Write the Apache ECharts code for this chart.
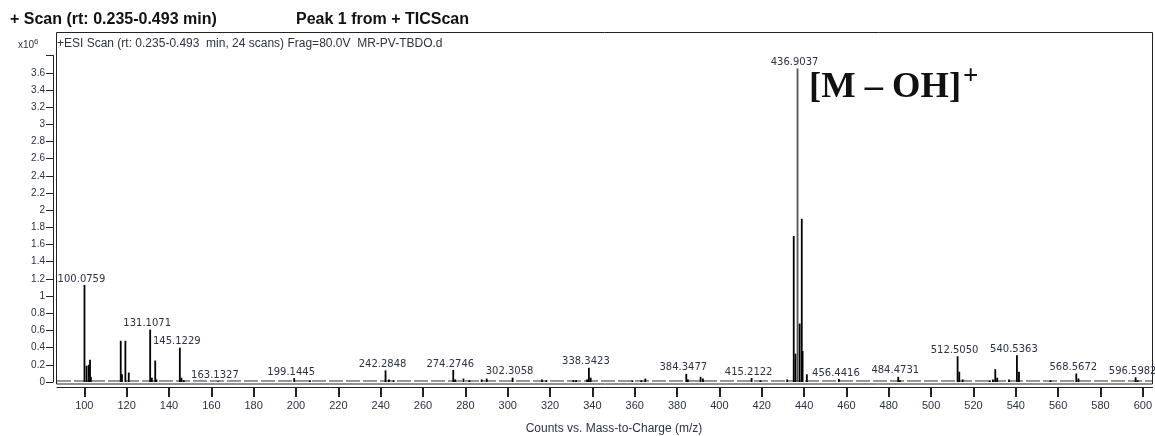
<!DOCTYPE html>
<html><head><meta charset="utf-8">
<script src="https://cdn.jsdelivr.net/npm/echarts@6/dist/echarts.min.js"></script>
<style>html,body{margin:0;padding:0;background:#fff}#c{width:1155px;height:436px}</style>
</head><body><div id="c"></div>
<script>
// annotated peaks (m/z, intensity x10^6)
const labeledMz = [100.0759,131.1071,145.1229,163.1327,199.1445,242.2848,274.2746,302.3058,338.3423,384.3477,415.2122,436.9037,456.4416,484.4731,512.5050,540.5363,568.5672,596.5982];
const labeledIntensity = [1.13,0.61,0.40,0.01,0.045,0.135,0.14,0.05,0.165,0.095,0.045,3.65,0.035,0.06,0.30,0.31,0.10,0.055];
// other (unlabelled) peaks
const otherMz = [101.08,102.1,102.7,103.1,117.2,117.8,119.4,121.0,131.9,133.5,134.1,145.9,147.0,206.6,243.9,246.1,275.2,279.1,281.9,287.7,290.1,316.2,318.3,331.0,332.3,337.5,339.2,358.9,363.1,365.0,385.1,391.1,392.2,419.4,432.0,435.1,435.9,437.9,438.9,439.3,441.3,485.3,513.3,514.9,527.7,529.2,530.3,531.2,536.8,541.5,556.4,569.6,597.5];
const otherIntensity = [0.19,0.20,0.26,0.06,0.48,0.09,0.48,0.11,0.05,0.25,0.03,0.05,0.02,0.02,0.03,0.02,0.03,0.04,0.02,0.03,0.04,0.03,0.02,0.02,0.02,0.03,0.05,0.02,0.02,0.04,0.03,0.06,0.04,0.02,0.03,1.70,0.33,0.68,1.90,0.36,0.09,0.02,0.12,0.03,0.02,0.03,0.15,0.05,0.03,0.12,0.02,0.04,0.02];
// baseline noise level
const baselineMz = [87.1,604.6];
const baselineIntensity = [0.012,0.012];
// axis ticks
const xTickValues = [100,120,140,160,180,200,220,240,260,280,300,320,340,360,380,400,420,440,460,480,500,520,540,560,580,600];
const yTickLabels = ['0','0.2','0.4','0.6','0.8','1','1.2','1.4','1.6','1.8','2','2.2','2.4','2.6','2.8','3','3.2','3.4','3.6',''];

const txtColor = '#2b3245';
const peaks = [];
labeledMz.forEach((m,i)=>peaks.push({
  name: m.toFixed(4), value:[m, labeledIntensity[i]],
  itemStyle: m===436.9037 ? {color:'#555'} : undefined,
  label:{show:true}
}));
otherMz.forEach((m,i)=>peaks.push({value:[m, otherIntensity[i]], label:{show:false}}));

const chart = echarts.init(document.getElementById('c'));
chart.setOption({
  animation:false,
  backgroundColor:'#fff',
  grid:{left:57, right:2, top:55.6, bottom:54},
  xAxis:{type:'value', min:87.1, max:604.6, offset:5,
    axisLine:{show:true, onZero:false, lineStyle:{color:'#222', width:1}},
    axisTick:{show:true, customValues:xTickValues, length:10, lineStyle:{color:'#222', width:2}},
    axisLabel:{show:true, customValues:xTickValues, fontSize:11, fontFamily:'Liberation Sans', color:txtColor, margin:13},
    splitLine:{show:false}},
  yAxis:{type:'value', min:0, max:3.8, interval:0.2, offset:4,
    axisLine:{show:true, lineStyle:{color:'#222', width:1}},
    axisTick:{show:true, length:7, lineStyle:{color:'#222'}},
    axisLabel:{fontSize:10, fontFamily:'Liberation Sans', color:txtColor, margin:8,
      formatter:(v)=>yTickLabels[Math.round(v/0.2)] ?? ''},
    splitLine:{show:false}},
  series:[
    {type:'line', data: baselineMz.map((m,i)=>[m, baselineIntensity[i]]), symbol:'none',
      lineStyle:{color:'#333', width:1, type:[14,3]}, silent:true, z:1},
    {type:'bar', data:peaks, barWidth:1.8, itemStyle:{color:'#000'},
      label:{position:'top', distance:1, offset:[-3,0], formatter:'{b}', fontFamily:'DejaVu Sans', fontSize:10, color:txtColor},
      z:2}
  ],
  graphic:[
    {type:'rect', shape:{x:56.5, y:32.5, width:1096, height:351.5}, style:{fill:null, stroke:'#222', lineWidth:1}, silent:true},
    {type:'text', x:10, y:20, style:{text:'+ Scan (rt: 0.235-0.493 min)', font:'bold 16px "Liberation Sans"', fill:'#111', verticalAlign:'middle'}},
    {type:'text', x:296, y:20, style:{text:'Peak 1 from + TICScan', font:'bold 16px "Liberation Sans"', fill:'#111', verticalAlign:'middle'}},
    {type:'text', x:18, y:45, style:{text:'{a|x10}{b|6}', verticalAlign:'middle', rich:{a:{fontSize:10, fontFamily:'Liberation Sans', fill:txtColor}, b:{fontSize:8, fontFamily:'Liberation Sans', fill:txtColor, verticalAlign:'top', padding:[0,0,6,0]}}}},
    {type:'text', x:57, y:44, style:{text:'+ESI Scan (rt: 0.235-0.493  min, 24 scans) Frag=80.0V  MR-PV-TBDO.d', font:'12px "Liberation Sans"', fill:txtColor, verticalAlign:'middle'}},
    {type:'text', x:809, y:88, style:{text:'[M – OH]', font:'bold 36.5px "Liberation Serif"', fill:'#111', verticalAlign:'middle'}},
    {type:'text', x:963, y:77, style:{text:'+', font:'bold 27px "Liberation Serif"', fill:'#111', verticalAlign:'middle'}},
    {type:'text', x:614, y:429, style:{text:'Counts vs. Mass-to-Charge (m/z)', font:'12px "Liberation Sans"', fill:txtColor, align:'center', verticalAlign:'middle'}}
  ]
});
</script>
</body></html>
